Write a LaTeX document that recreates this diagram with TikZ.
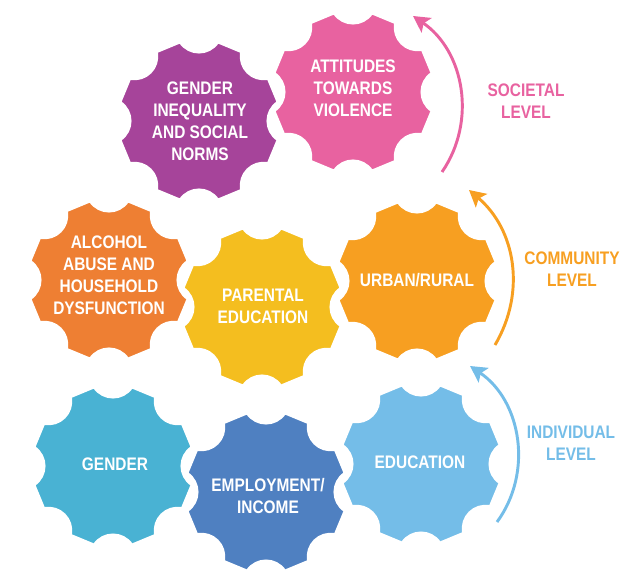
\documentclass[tikz,border=0pt]{standalone}
\usepackage{fontspec}
\newfontfamily\condfont{Liberation Sans}[FakeStretch=0.85]
\usetikzlibrary{arrows.meta}

\definecolor{normspurple}{HTML}{A6449A}
\definecolor{violencepink}{HTML}{E862A0}
\definecolor{alcoholorange}{HTML}{EE7F33}
\definecolor{parentalyellow}{HTML}{F4BE1F}
\definecolor{urbanorange}{HTML}{F79F21}
\definecolor{gendercyan}{HTML}{49B2D3}
\definecolor{incomeblue}{HTML}{4F80C1}
\definecolor{educationblue}{HTML}{74BDE8}

\tikzset{
  gear/.pic={
    \path[pic actions] (13.5:81)
      \foreach \a in {22.5,67.5,...,337.5}{
        -- (\a+9:81) .. controls (\a+14:66) and (\a+31:66) .. (\a+36:81)
      } -- cycle;
  },
  cog/.style={draw=white,line width=2pt,fill=#1},
  gtext/.style={text=white,align=center,font=\condfont\bfseries\fontsize{15.5}{18.8}\selectfont},
  leveltext/.style={text=#1,align=center,font=\condfont\bfseries\fontsize{15.5}{18.8}\selectfont},
  levelarrow/.style={draw=#1,line width=2.5pt,-{Stealth[length=14pt,width=15pt,inset=3pt]}}
}

\begin{document}
\begin{tikzpicture}[x=0.3mm,y=-0.3mm]
     \useasboundingbox (0,0) rectangle (623,570);

     % societal level
     \pic[cog=normspurple] at (199,121) {gear};
     \pic[cog=violencepink] at (353,92) {gear};
     % community level
     \pic[cog=alcoholorange] at (109,280) {gear};
     \pic[cog=parentalyellow] at (262,307) {gear};
     \pic[cog=urbanorange] at (417,281) {gear};
     % individual level
     \pic[cog=gendercyan] at (113,466) {gear};
     \pic[cog=incomeblue] at (266,492) {gear};
     \pic[cog=educationblue] at (421,464) {gear};

     \node[gtext] (norms) at (200,121) {GENDER\\INEQUALITY\\AND SOCIAL\\NORMS};
     \node[gtext] (violence) at (353,88) {ATTITUDES\\TOWARDS\\VIOLENCE};
     \node[gtext] (alcohol) at (109,275) {ALCOHOL\\ABUSE AND\\HOUSEHOLD\\DYSFUNCTION};
     \node[gtext] (parental) at (263,306) {PARENTAL\\EDUCATION};
     \node[gtext] (urban) at (417,280) {URBAN/RURAL};
     \node[gtext] (gender) at (115,464) {GENDER};
     \node[gtext] (income) at (268,496) {EMPLOYMENT/\\INCOME};
     \node[gtext] (education) at (420,462) {EDUCATION};

     \coordinate (societal-from) at (442,172);
     \coordinate (societal-to) at (413,16);
     \coordinate (community-from) at (495,345);
     \coordinate (community-to) at (469,190);
     \coordinate (individual-from) at (497,522);
     \coordinate (individual-to) at (470,366);

     \draw[levelarrow=violencepink] (societal-from) to[bend right=45] (societal-to);
     \draw[levelarrow=urbanorange] (community-from) to[bend right=40] (community-to);
     \draw[levelarrow=educationblue] (individual-from) to[bend right=46] (individual-to);

     \node[leveltext=violencepink] (societal) at (526,101) {SOCIETAL\\LEVEL};
     \node[leveltext=urbanorange] (community) at (572,269) {COMMUNITY\\LEVEL};
     \node[leveltext=educationblue] (individual) at (571,443) {INDIVIDUAL\\LEVEL};
\end{tikzpicture}
\end{document}
